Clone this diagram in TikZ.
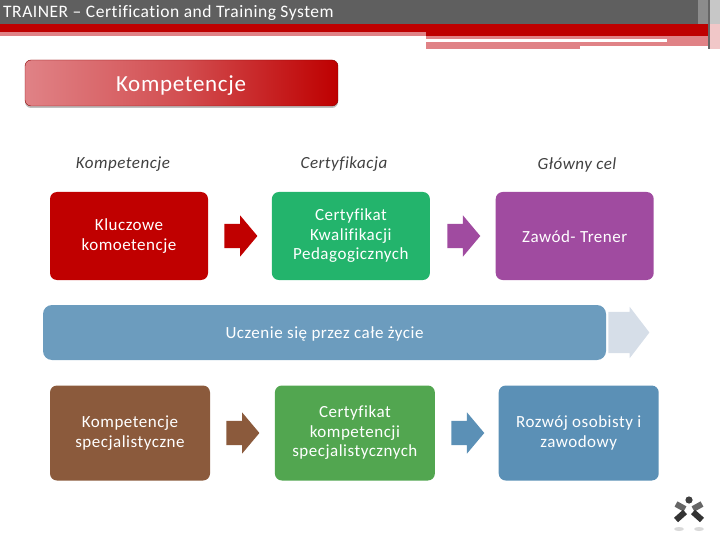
\documentclass[tikz,border=0pt]{standalone}
\usepackage{fontspec}
\setmainfont{Carlito}
\newfontfamily\bodyfont[LetterSpace=3,Ligatures=NoCommon]{Carlito}
\usetikzlibrary{positioning,shapes.arrows,shadows}
\definecolor{headgray}{HTML}{5F5F5F}
\definecolor{headred}{HTML}{BE0000}
\definecolor{headpink}{HTML}{E08286}
\definecolor{boxred}{HTML}{C00000}
\definecolor{boxgreen}{HTML}{23B46C}
\definecolor{boxpurple}{HTML}{A04BA0}
\definecolor{boxbrown}{HTML}{8B5A3C}
\definecolor{boxleaf}{HTML}{52A650}
\definecolor{boxblue}{HTML}{5B90B6}
\definecolor{barblue}{HTML}{6C9CBE}
\definecolor{barpale}{HTML}{D6DEE8}

\begin{document}
\begin{tikzpicture}[x=1pt,y=-1pt,node distance=16pt,
  main box/.style={draw=none,rounded corners=7pt,minimum width=158pt,minimum height=88pt,
    inner sep=0pt,align=center,text=white,font=\bodyfont\fontsize{17}{19.5}\selectfont,
    execute at begin node={\rule{0pt}{14pt}}},
  big box/.style={main box,minimum width=160pt,minimum height=95pt},
  col head/.style={font=\bodyfont\fontsize{17}{20}\selectfont\itshape,text=black!75},
  block arrow/.style={single arrow,draw=none,inner xsep=0pt,inner ysep=12pt,minimum width=41pt,
    minimum height=33pt,single arrow head extend=8.5pt,single arrow tip angle=100}]

  \useasboundingbox (0,0) rectangle (720,540);

  % header bands
  \fill[headgray] (0,0) rectangle (720,24);
  \fill[headred] (0,24) rectangle (710,32);
  \fill[headred] (426,32) rectangle (710,36);
  \fill[headpink] (0,32) rectangle (426,36);
  \fill[headpink] (426,36) rectangle (710,39);
  \fill[headpink] (667,39) rectangle (710,46);
  \fill[headpink] (426,42) rectangle (667,46);
  \fill[headpink] (426,46) rectangle (580,49);
  \fill[black!22] (710,0) rectangle (720,24);
  \fill[headpink!45] (710,24) rectangle (720,49);
  \fill[black!45] (698,0) rectangle (710,24);
  \fill[black!60] (708,0) rectangle (709.5,49);

  \node[anchor=west,inner sep=0pt,text=white,font=\bodyfont\fontsize{17.5}{20}\selectfont] (title) at (3,12.5)
    {TRAINER – Certification and Training System};

  \node[draw=headred!70!black,rounded corners=6pt,minimum width=313pt,minimum height=46pt,
    left color=headpink,right color=headred,middle color=headpink!60!headred,
    drop shadow={shadow xshift=0pt,shadow yshift=-2pt,opacity=.5}] (komp) at (181.5,83) {};
  \node[text=white,font=\bodyfont\fontsize{23}{26}\selectfont] (kompt) at (181,86) {Kompetencje};

  % upper row
  \node[main box,fill=boxred] (kluczowe) at (129,236) {Kluczowe\\komoetencje};
  \node[block arrow,fill=boxred,right=of kluczowe] (arrow1) {};
  \node[main box,fill=boxgreen,right=14pt of arrow1] (kwal) {Certyfikat\\Kwalifikacji\\Pedagogicznych};
  \node[block arrow,fill=boxpurple,right=17pt of kwal] (arrow2) {};
  \node[main box,fill=boxpurple,right=15pt of arrow2] (zawod) {Zawód- Trener};

  \node[col head] (head1) at (123,164.5) {Kompetencje};
  \node[col head] (head2) at (344,164.5) {Certyfikacja};
  \node[col head] (head3) at (577,164.5) {Główny cel};

  % middle bar
  \node[main box,fill=barblue,rounded corners=9pt,minimum width=563pt,minimum height=55pt] (bar) at (324.5,332.5) {};
  \node[text=white,font=\bodyfont\fontsize{17}{20}\selectfont] (bartext) at (324.5,333.5) {Uczenie się przez całe życie};
  \node[block arrow,fill=barpale,right=2pt of bar,inner ysep=20.5pt,minimum width=51pt,minimum height=41pt,
    single arrow head extend=5pt,single arrow tip angle=105] (arrow3) {};

  % lower row
  \node[big box,fill=boxbrown] (spec) at (130,433) {Kompetencje\\specjalistyczne};
  \node[block arrow,fill=boxbrown,right=of spec] (arrow4) {};
  \node[big box,fill=boxleaf,right=15pt of arrow4] (certspec) {Certyfikat\\kompetencji\\specjalistycznych};
  \node[block arrow,fill=boxblue,right=16pt of certspec] (arrow5) {};
  \node[big box,fill=boxblue,right=14pt of arrow5] (rozwoj) {Rozwój osobisty i\\zawodowy};

  % logo
  \fill[black!75] (689,500) circle (3.6);
  \draw[line width=6pt,black!60] (676,504) -- (685,509);
  \draw[line width=6pt,black!60] (702,504) -- (693,509);
  \draw[line width=6pt,black!80] (685,512) -- (676,520);
  \draw[line width=6pt,black!80] (693,512) -- (702,520);
  \fill[black!15] (679,529) ellipse (5 and 2);
  \fill[black!15] (699,529) ellipse (5 and 2);
\end{tikzpicture}
\end{document}
